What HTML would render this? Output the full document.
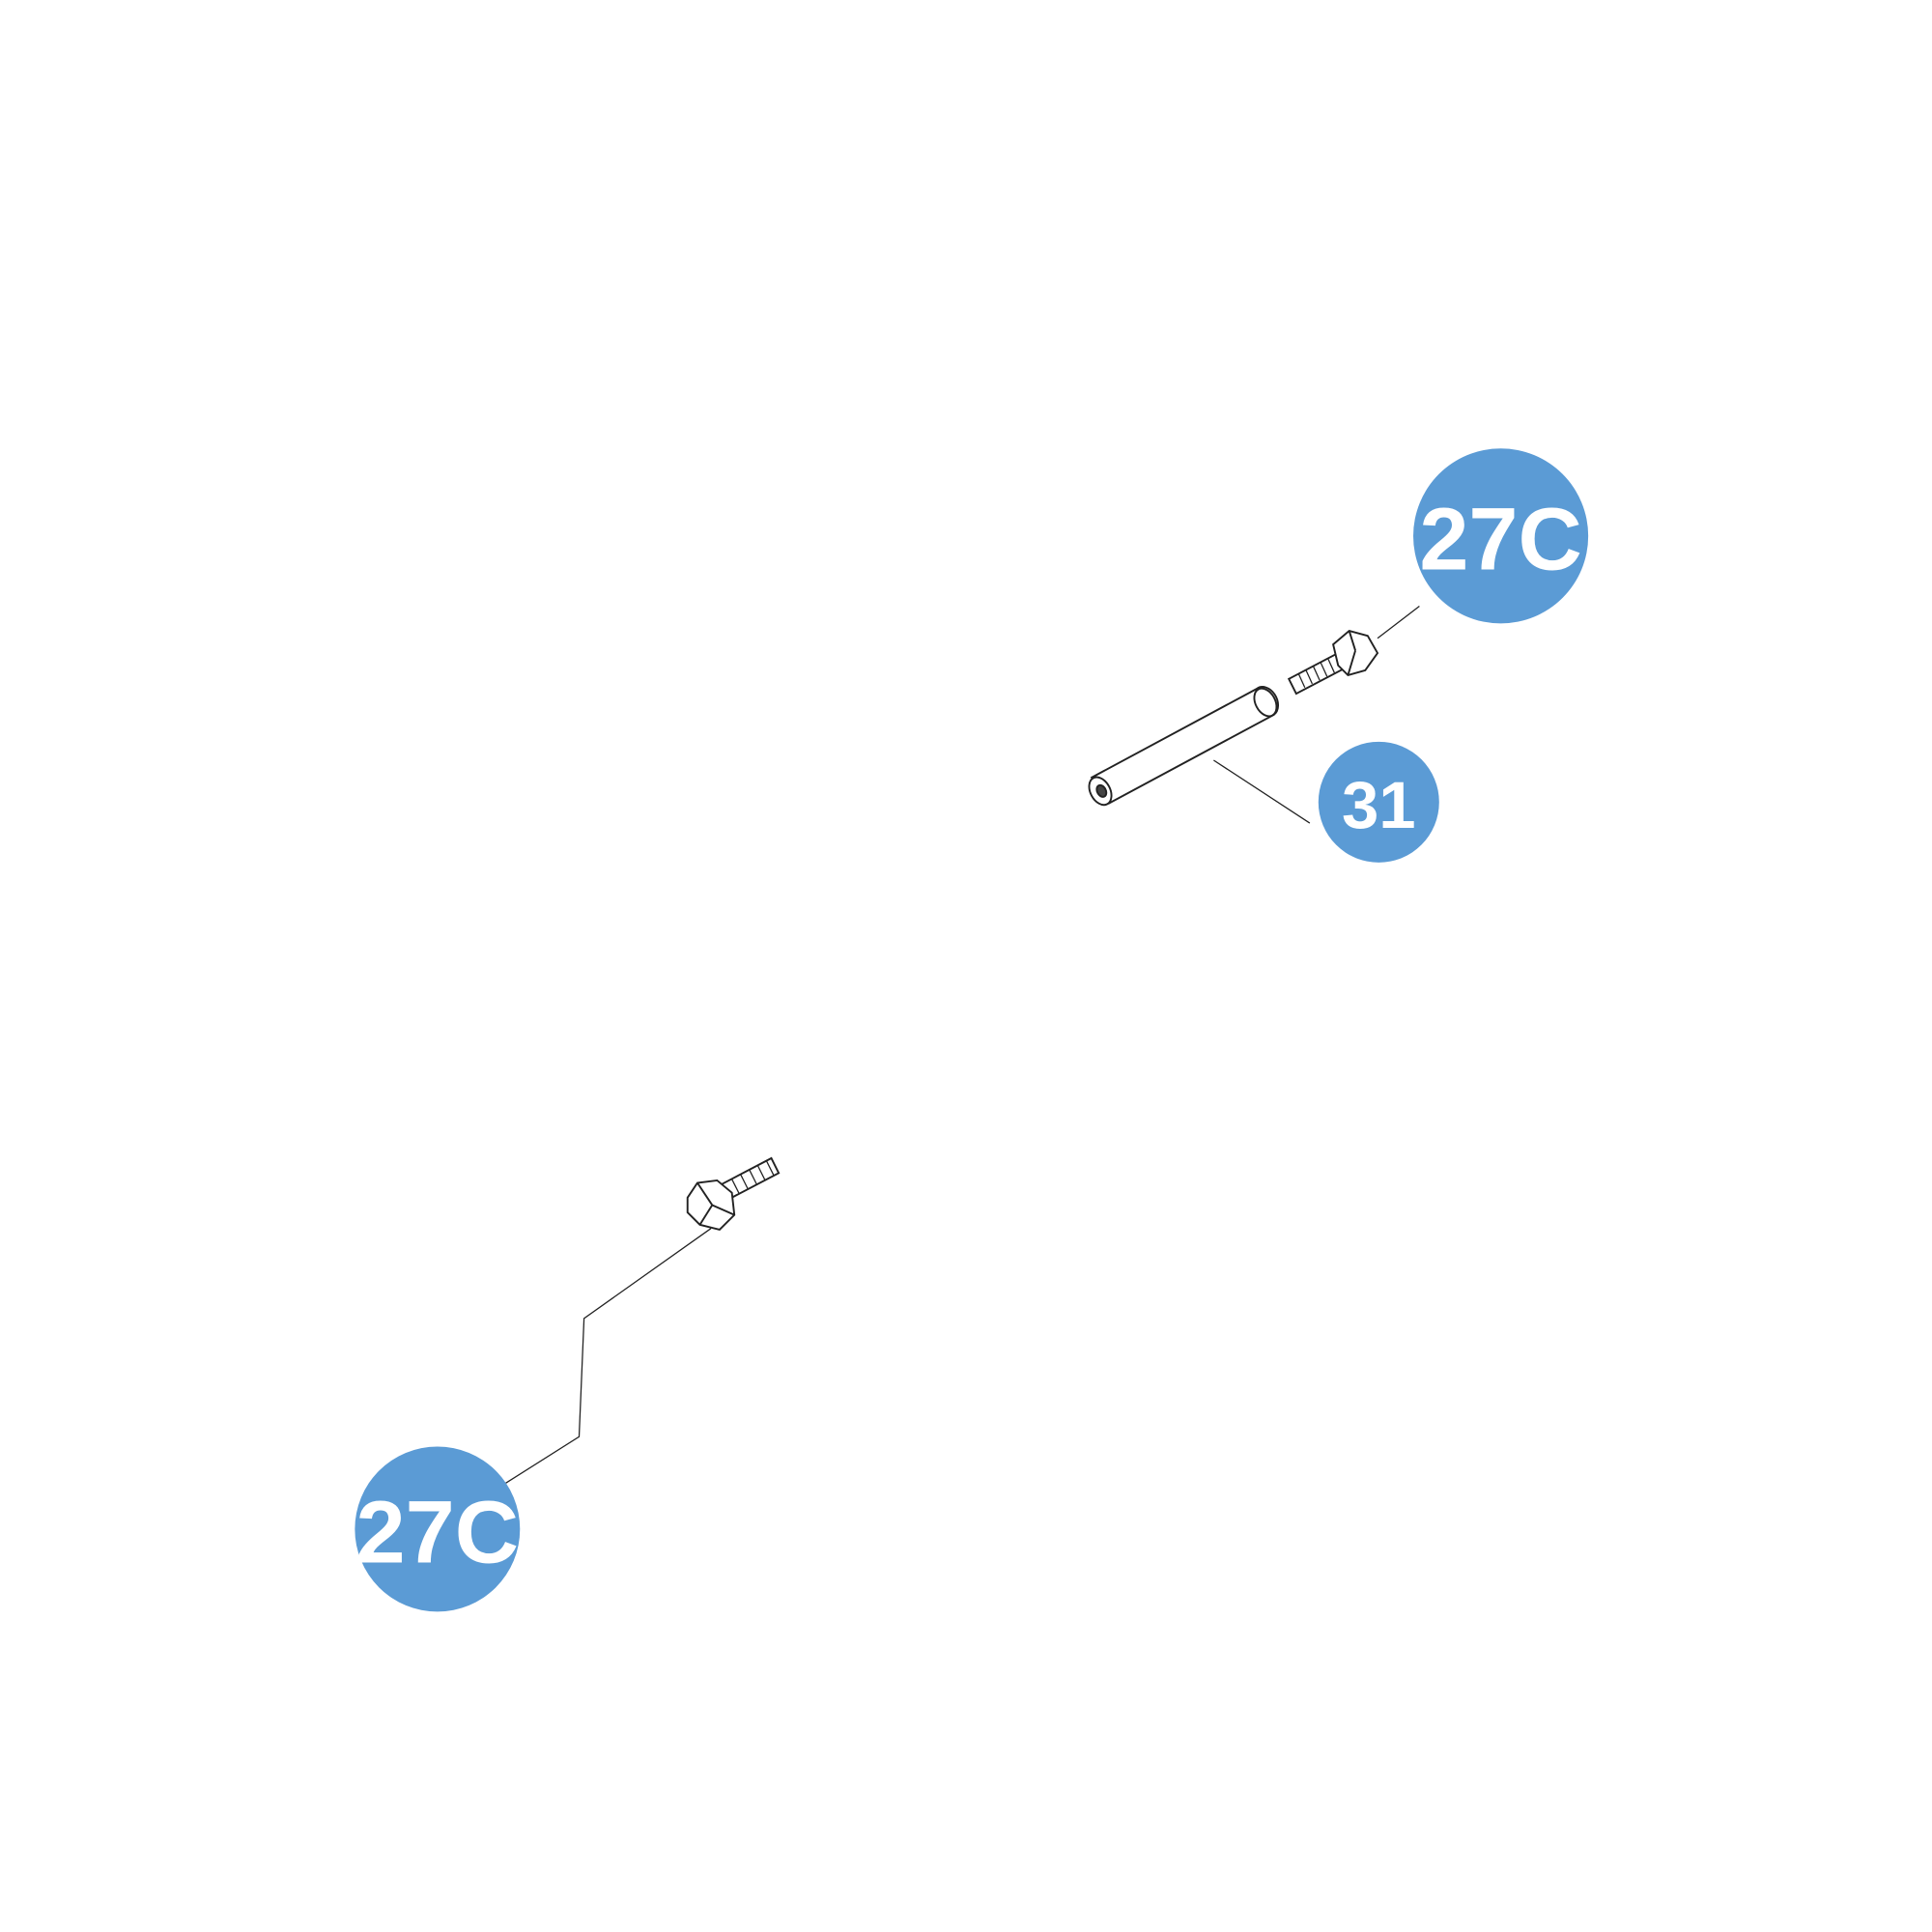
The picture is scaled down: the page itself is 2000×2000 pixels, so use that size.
<!DOCTYPE html>
<html><head><meta charset="utf-8"><style>
html,body{margin:0;padding:0;background:#fff;width:2000px;height:2000px;overflow:hidden}
svg{display:block}
text{font-family:"Liberation Sans",sans-serif;font-weight:bold;fill:#fff;text-anchor:middle}
</style></head><body>
<svg width="2000" height="2000" viewBox="0 0 1568 1568" xmlns="http://www.w3.org/2000/svg">
<g stroke="#222" stroke-width="1" fill="none">
<line x1="1118" y1="518" x2="1152" y2="492"/>
<line x1="985" y1="617" x2="1063" y2="668"/>
<polyline points="577,997 474,1070 470,1166 410,1204"/>
</g>
<!-- tube -->
<g stroke="#222" stroke-width="1.5" fill="#fff">
<path d="M886,631 L1020,559 A9,12 -28 0 1 1034,580 L900,652 Z"/>
<ellipse cx="1027" cy="570" rx="8" ry="12" transform="rotate(-28 1027 570)"/>
<ellipse cx="893" cy="642" rx="8" ry="12" transform="rotate(-28 893 642)"/>
<ellipse cx="894" cy="642" rx="3.5" ry="5" transform="rotate(-28 894 642)" fill="#444"/>
</g>
<!-- top bolt -->
<g stroke="#222" stroke-width="1.5" fill="#fff">
<path d="M1046,551 L1086,530 L1092,542 L1052,563 Z"/>
<g stroke-width="1"><line x1="1054" y1="547" x2="1059" y2="558"/><line x1="1060" y1="544" x2="1065" y2="555"/><line x1="1066" y1="541" x2="1071" y2="552"/><line x1="1072" y1="538" x2="1077" y2="549"/><line x1="1078" y1="535" x2="1083" y2="546"/></g>
<path d="M1082,523 L1095,512 L1110,516 L1118,530 L1108,544 L1094,548 L1086,540 Z"/>
<line x1="1095" y1="512" x2="1100" y2="528"/><line x1="1100" y1="528" x2="1094" y2="548"/>
</g>
<!-- bottom bolt -->
<g stroke="#222" stroke-width="1.5" fill="#fff">
<path d="M584,962 L626,940 L632,952 L590,974 Z"/>
<g stroke-width="1"><line x1="594" y1="957" x2="600" y2="969"/><line x1="601" y1="953" x2="607" y2="965"/><line x1="608" y1="949" x2="614" y2="961"/><line x1="615" y1="946" x2="621" y2="958"/><line x1="622" y1="942" x2="628" y2="954"/></g>
<path d="M558,972 L566,960 L582,958 L594,968 L596,986 L584,998 L568,994 L558,984 Z"/>
<line x1="566" y1="960" x2="578" y2="978"/><line x1="578" y1="978" x2="596" y2="986"/><line x1="578" y1="978" x2="568" y2="994"/>
</g>
<circle cx="1218" cy="435" r="71" fill="#5b9bd5"/>
<text x="1218" y="462" font-size="72">27C</text>
<circle cx="1119" cy="651" r="49" fill="#5b9bd5"/>
<text x="1119" y="672" font-size="54">31</text>
<circle cx="355" cy="1241" r="67" fill="#5b9bd5"/>
<text x="355" y="1268" font-size="72">27C</text>
</svg>
</body></html>
